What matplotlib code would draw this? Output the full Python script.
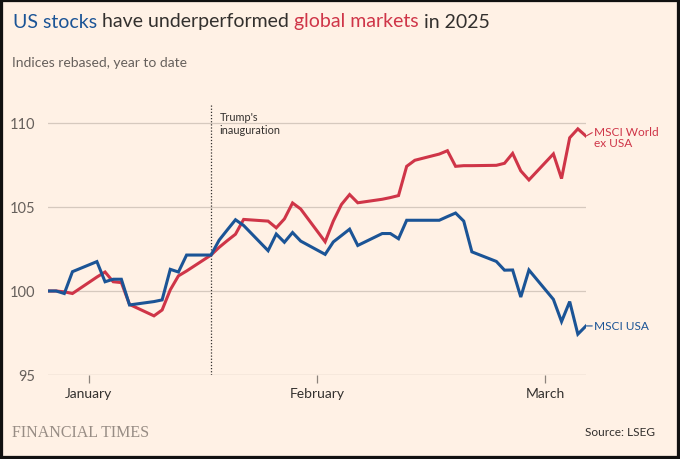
import numpy as np
import pandas as pd
import matplotlib
matplotlib.use("Agg")
import matplotlib.pyplot as plt
import matplotlib.dates as mdates
from matplotlib.patches import Rectangle

plt.rcParams["font.family"] = ["Lato", "DejaVu Sans"]

# trading days, Dec 31 2024 to Mar 7 2025 (holidays shown flat)
dates = pd.bdate_range("2024-12-31", "2025-03-07")

msci_usa = [
    100.0, 100.0, 99.85, 101.15,
    101.75, 100.55, 100.7, 100.7, 99.17,
    99.37, 99.47, 101.29, 101.13, 102.14,
    102.14, 103.03, 103.64, 104.24, 103.9,
    102.4, 103.39, 102.9, 103.48, 102.97,
    102.18, 102.92, 103.3, 103.68, 102.71,
    103.42, 103.42, 103.11, 104.21, 104.21,
    104.21, 104.43, 104.64, 104.16, 102.33,
    101.76, 101.24, 101.25, 99.64, 101.25,
    99.5, 98.18, 99.37, 97.43, 97.92,
]

msci_world_ex_usa = [
    100.0, 100.0, 99.95, 99.85,
    100.83, 101.13, 100.55, 100.5, 99.2,
    98.52, 98.87, 100.07, 100.9, 101.19,
    102.14, 102.6, 103.0, 103.38, 104.26,
    104.16, 103.76, 104.29, 105.24, 104.88,
    102.93, 104.16, 105.15, 105.74, 105.25,
    105.46, 105.56, 105.68, 107.42, 107.78,
    108.15, 108.35, 107.42, 107.46, 107.46,
    107.48, 107.6, 108.19, 107.15, 106.61,
    108.16, 106.69, 109.12, 109.65, 109.22,
]

month_ticks = pd.to_datetime(["2025-01-05", "2025-02-02", "2025-03-02"])
month_labels = ["January", "February", "March"]
y_ticks = [95, 100, 105, 110]
inauguration = pd.Timestamp("2025-01-20")

BG = "#FFF1E5"
BLUE = "#1B5496"
RED = "#CF3548"
GRID = "#D6C9BE"
TXT = "#33302E"
GREY = "#66605C"

fig = plt.figure(figsize=(6.8, 4.6), dpi=100, facecolor=BG)
ax = fig.add_axes([48 / 680, 1 - 376 / 460, (586 - 48) / 680, (376 - 105) / 460])
ax.set_facecolor(BG)

ax.plot(dates, msci_world_ex_usa, color=RED, lw=2.2, solid_joinstyle="miter", zorder=3)
ax.plot(dates, msci_usa, color=BLUE, lw=2.2, solid_joinstyle="miter", zorder=4)

ax.set_xlim(dates[0], dates[-1])
ax.set_ylim(95, 111.13)

for y in y_ticks:
    ax.axhline(y, color=GRID if y != 95 else "#B8ACA2", lw=0.9, zorder=1)
ax.set_yticks(y_ticks)
ax.set_yticklabels([str(v) for v in y_ticks])
ax.tick_params(axis="y", length=0, pad=9, labelsize=10.5, labelcolor=GREY)

ax.set_xticks(month_ticks)
ax.set_xticklabels(month_labels)
ax.tick_params(axis="x", length=6, width=0.9, color="#8C837C", pad=3,
               labelsize=10, labelcolor=TXT)
for s in ax.spines.values():
    s.set_visible(False)

ax.axvline(inauguration, ymin=0, ymax=1, color=TXT, lw=0.9, ls=(0, (1, 1.5)), zorder=2)
ax.annotate("Trump's\ninauguration", xy=(inauguration, 1), xycoords=("data", "axes fraction"),
            xytext=(6, -5), textcoords="offset points", ha="left", va="top",
            fontsize=7.8, color=TXT, linespacing=1.2)

# end labels with short leader lines
ax.annotate("MSCI World\nex USA", xy=(dates[-1], msci_world_ex_usa[-1]),
            xytext=(5.5, -0.5), textcoords="offset points", ha="left", va="center",
            fontsize=8.6, color=RED, linespacing=1.0, annotation_clip=False)
ax.annotate("", xy=(dates[-1], msci_world_ex_usa[-1]), xytext=(4.5, 2.5),
            textcoords="offset points", annotation_clip=False,
            arrowprops=dict(arrowstyle="-", color=RED, lw=0.8, shrinkA=0, shrinkB=0))
ax.annotate("MSCI USA", xy=(dates[-1], msci_usa[-1]),
            xytext=(5.5, 0), textcoords="offset points", ha="left", va="center",
            fontsize=8.6, color=BLUE, annotation_clip=False)
ax.annotate("", xy=(dates[-1], msci_usa[-1]), xytext=(4.5, 0),
            textcoords="offset points", annotation_clip=False,
            arrowprops=dict(arrowstyle="-", color=BLUE, lw=0.8, shrinkA=0, shrinkB=0))

# title in coloured pieces
renderer = fig.canvas.get_renderer()
x = 13 / 680
for piece, col in [("US stocks", BLUE), (" have underperformed ", TXT),
                   ("global markets", RED), (" in 2025", TXT)]:
    t = fig.text(x, 1 - 22 / 460, piece, fontsize=14.0, color=col, ha="left", va="center")
    bb = t.get_window_extent(renderer)
    x += bb.width / fig.bbox.width

fig.text(12 / 680, 1 - 63 / 460, "Indices rebased, year to date", fontsize=10,
         color=GREY, ha="left", va="center")

fig.text(12 / 680, 1 - 433 / 460, "FINANCIAL TIMES", fontsize=11.5, color="#978C84",
         family="Liberation Serif", ha="left", va="center")
fig.text(655 / 680, 1 - 433 / 460, "Source: LSEG", fontsize=8.6, color=TXT,
         ha="right", va="center")

fig.patches.append(Rectangle((0, 0), 1, 1, transform=fig.transFigure, fill=False,
                             ec="#111111", lw=4.5, zorder=10))

fig.savefig("out.png", dpi=100, facecolor=BG)
